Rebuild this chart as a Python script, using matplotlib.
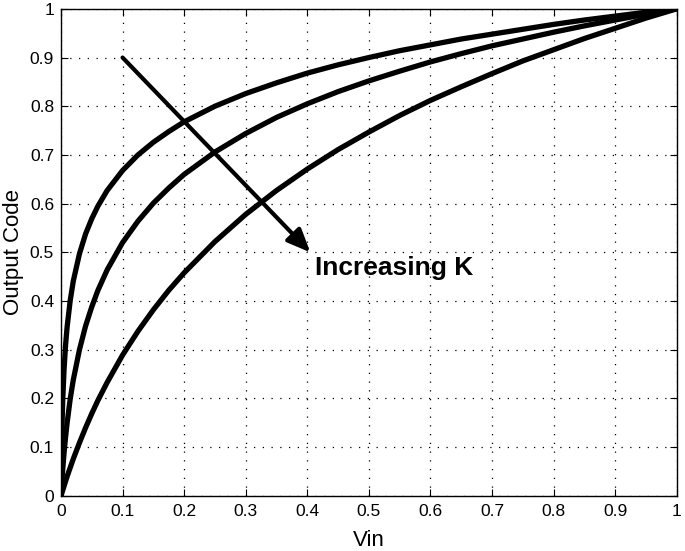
import numpy as np
import matplotlib
matplotlib.use("Agg")
import matplotlib.pyplot as plt

plt.rcParams['font.family'] = ['Liberation Sans', 'DejaVu Sans']

# values
vin = np.asarray([0, 0.0005, 0.001, 0.002, 0.003, 0.005, 0.0075, 0.01, 0.015, 0.02, 0.03, 0.04,
                  0.05, 0.06, 0.075, 0.1, 0.125, 0.15, 0.175, 0.2, 0.25, 0.3, 0.35, 0.4, 0.45,
                  0.5, 0.55, 0.6, 0.65, 0.7, 0.75, 0.8, 0.85, 0.9, 0.95, 1.0])
code_k10 = np.asarray([0, 0.002, 0.004, 0.008, 0.012, 0.020, 0.030, 0.040, 0.058, 0.076, 0.109, 0.140,
                       0.169, 0.196, 0.233, 0.289, 0.338, 0.382, 0.422, 0.458, 0.522, 0.578, 0.627,
                       0.671, 0.711, 0.747, 0.781, 0.812, 0.840, 0.867, 0.893, 0.916, 0.939, 0.960,
                       0.981, 1.0])
code_k100 = np.asarray([0, 0.011, 0.021, 0.040, 0.057, 0.088, 0.121, 0.150, 0.199, 0.238, 0.300, 0.349,
                        0.388, 0.422, 0.464, 0.520, 0.564, 0.601, 0.632, 0.660, 0.706, 0.744, 0.777,
                        0.805, 0.830, 0.852, 0.872, 0.891, 0.908, 0.924, 0.938, 0.952, 0.965, 0.977,
                        0.989, 1.0])
code_k1000 = np.asarray([0, 0.059, 0.100, 0.159, 0.201, 0.259, 0.310, 0.347, 0.401, 0.441, 0.497, 0.538,
                         0.569, 0.595, 0.627, 0.668, 0.700, 0.726, 0.748, 0.768, 0.800, 0.826, 0.848,
                         0.868, 0.885, 0.900, 0.914, 0.926, 0.938, 0.948, 0.958, 0.968, 0.977, 0.985,
                         0.993, 1.0])

fig = plt.figure(figsize=(6.85, 5.51), dpi=100)
ax = fig.add_axes([0.089, 0.1, 0.899, 0.884])

for y in (code_k10, code_k100, code_k1000):
    ax.plot(vin, y, color='black', linewidth=3.8, solid_joinstyle='round', solid_capstyle='butt')

# flecha
ax.annotate('', xy=(0.405, 0.5), xytext=(0.1, 0.9),
            arrowprops=dict(arrowstyle='-|>,head_length=1.4,head_width=0.6',
                            color='black', lw=3, shrinkA=0, shrinkB=0))
ax.text(0.412, 0.467, 'Increasing K', fontsize=19, fontweight='bold', va='center', ha='left')

ax.set_xlim(0, 1)
ax.set_ylim(0, 1)
ax.set_xticks(np.arange(0, 1.01, 0.1))
ax.set_yticks(np.arange(0, 1.01, 0.1))
ax.set_xticklabels(['0', '0.1', '0.2', '0.3', '0.4', '0.5', '0.6', '0.7', '0.8', '0.9', '1'])
ax.set_yticklabels(['0', '0.1', '0.2', '0.3', '0.4', '0.5', '0.6', '0.7', '0.8', '0.9', '1'])
ax.tick_params(direction='in', top=True, right=True, labelsize=12.5, length=5)
ax.tick_params(axis='x', pad=6)
ax.tick_params(axis='y', pad=5)
ax.set_xlabel('Vin', fontsize=16, labelpad=8)
ax.set_ylabel('Output Code', fontsize=16, labelpad=4)
ax.grid(True, linestyle=(0, (1, 6)), linewidth=0.9, color='black')
for s in ax.spines.values():
    s.set_linewidth(1)

fig.savefig('out.png', dpi=100)
